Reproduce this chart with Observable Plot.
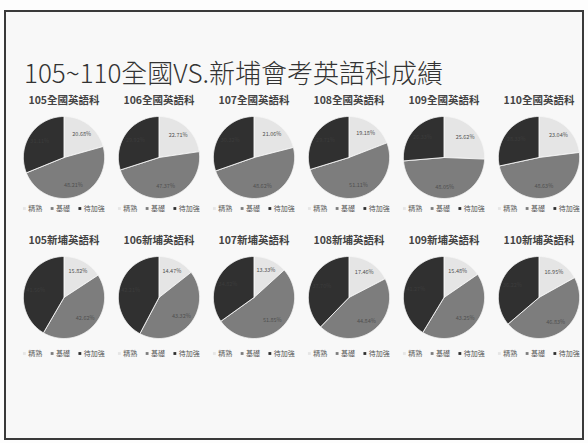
<!DOCTYPE html>
<html><head><meta charset="utf-8">
<script src="https://cdn.jsdelivr.net/npm/d3@7"></script>
<script src="https://cdn.jsdelivr.net/npm/@observablehq/plot@0.6"></script>
<style>
html,body{margin:0;padding:0;background:#fdfdfd;width:588px;height:443px;overflow:hidden;font-family:"Noto Sans CJK TC","Noto Sans",sans-serif;}
#frame{position:absolute;left:4px;top:10px;width:576px;height:426px;border:2px solid #3a3a3a;background:#f8f8f8;}
#title{position:absolute;left:24px;top:57px;font-size:26px;line-height:30px;color:#333;font-weight:300;white-space:nowrap;}
#chart{position:absolute;left:0;top:88px;}
</style></head><body>
<div id="frame"></div>
<div id="title">105~110全國VS.新埔會考英語科成績</div>
<div id="chart"></div>
<script>
const years = ["105","106","107","108","109","110"];
const regions = ["全國","新埔"];
const levels = ["精熟","基礎","待加強"];
const nationalProficient = [20.68, 22.71, 21.06, 19.18, 25.62, 23.04];
const nationalBasic      = [48.21, 47.37, 48.62, 51.11, 48.05, 48.63];
const nationalBelow      = [31.11, 29.92, 30.32, 29.71, 26.33, 28.33];
const xinpuProficient    = [15.82, 14.47, 13.33, 17.46, 15.48, 16.95];
const xinpuBasic         = [42.62, 43.32, 51.85, 44.84, 43.25, 46.83];
const xinpuBelow         = [41.56, 42.21, 34.82, 37.70, 41.27, 36.22];
const levelColors = ["#e5e5e5", "#7d7d7d", "#303030"];

const series = {"全國": [nationalProficient, nationalBasic, nationalBelow],
                "新埔": [xinpuProficient, xinpuBasic, xinpuBelow]};

const R = 41;            // px per data unit (pie radius)
const cellW = (588 - 13) / 6, cellH = 140, centerFromTop = 69;

const cells = [], slices = [], outline = [], legend = [];
const pie = d3.pie().sort(null).value(d => d.value);
const legendX = [-40, -12, 16];
const legendY = {"全國": -51, "新埔": -56};
for (const region of regions) {
  years.forEach((year, i) => {
    cells.push({region, year});
    const vals = levels.map((level, k) => ({level, value: series[region][k][i]}));
    for (const a of pie(vals)) {
      const level = a.data.level;
      const key = region + year + level;
      slices.push({region, year, level, value: a.data.value, mid: (a.startAngle + a.endAngle) / 2});
      outline.push({key, region, year, level, x: 0, y: 0});
      const n = Math.max(2, Math.ceil((a.endAngle - a.startAngle) / 0.02));
      for (let j = 0; j <= n; j++) {
        const t = a.startAngle + (a.endAngle - a.startAngle) * j / n;
        outline.push({key, region, year, level, x: Math.sin(t), y: Math.cos(t)});
      }
      outline.push({key, region, year, level, x: 0, y: 0});
    }
    levels.forEach((level, k) => legend.push({region, year, level, x: legendX[k] / R, y: legendY[region] / R}));
  });
}

const chart = Plot.plot({
  width: 588, height: cellH * 2,
  marginLeft: 13, marginRight: 0, marginTop: 0, marginBottom: 0,
  style: {background: "transparent", overflow: "visible", fontFamily: "'Noto Sans CJK TC', 'Noto Sans', sans-serif"},
  fx: {domain: years, padding: 0, axis: null},
  fy: {domain: regions, padding: 0, axis: null},
  x: {domain: [-(cellW / 2) / R, (cellW / 2) / R], axis: null},
  y: {domain: [-(cellH - centerFromTop) / R, centerFromTop / R], axis: null},
  color: {domain: levels, range: levelColors},
  marks: [
    Plot.line(outline, {x: "x", y: "y", z: "key", fill: "level", stroke: "#f6f6f6", strokeWidth: 0.9,
      fx: "year", fy: "region", curve: "linear"}),
    Plot.text(slices, {fx: "year", fy: "region",
      x: d => 0.72 * Math.sin(d.mid), y: d => 0.72 * Math.cos(d.mid),
      text: d => d.value.toFixed(2) + "%",
      fill: d => d.level === "待加強" ? "#3c3c3c" : "#505050", fontSize: 5.5}),
    Plot.text(cells, {fx: "year", fy: "region", x: 0, y: 56.5 / R,
      text: d => d.year + d.region + "英語科", fontSize: 10.5, fill: "#444", fontWeight: 600}),
    Plot.dot(legend, {fx: "year", fy: "region", x: "x", y: "y", fill: "level", symbol: "square", r: 1.6}),
    Plot.text(legend, {fx: "year", fy: "region", x: d => d.x + 4 / R, y: "y", text: "level",
      textAnchor: "start", fontSize: 7, fill: "#555"})
  ]
});
document.getElementById("chart").append(chart);
</script>
</body></html>
